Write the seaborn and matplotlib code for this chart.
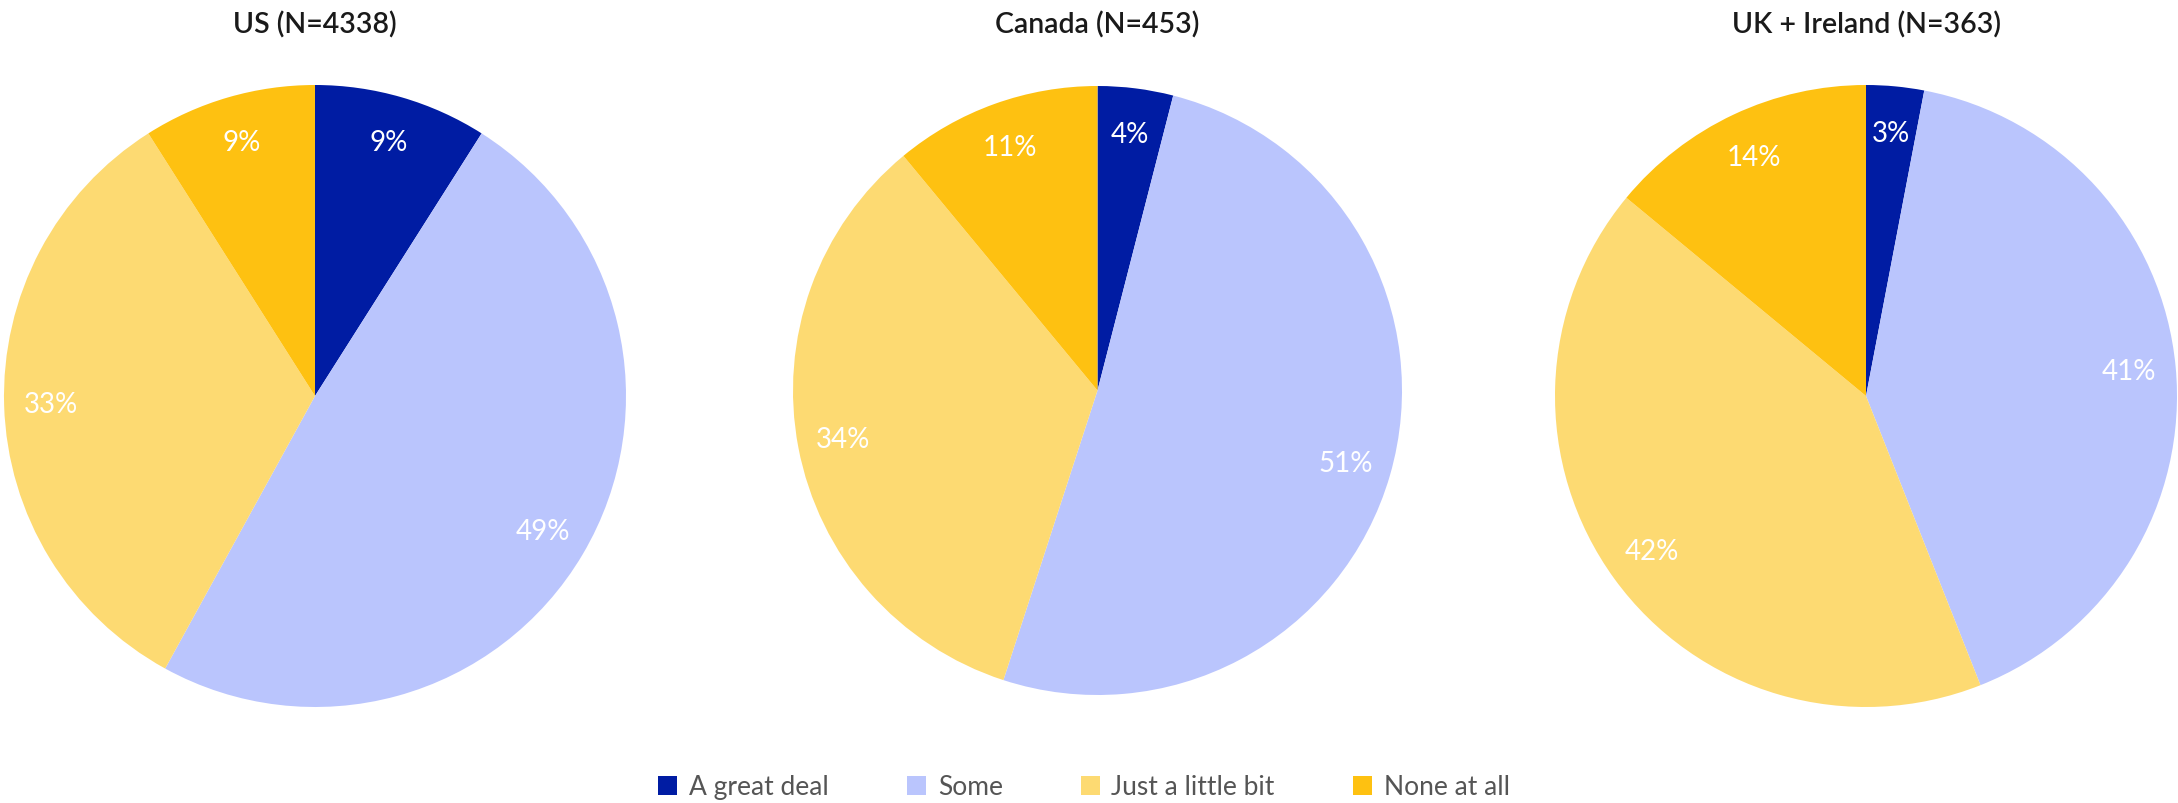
import matplotlib
matplotlib.use("Agg")
import matplotlib.pyplot as plt
import seaborn as sns
from matplotlib.patches import Patch

# Survey responses by region (percent of respondents)
categories = ["A great deal", "Some", "Just a little bit", "None at all"]
regions = ["US (N=4338)", "Canada (N=453)", "UK + Ireland (N=363)"]
us_values = [9, 49, 33, 9]
canada_values = [4, 51, 34, 11]
uk_values = [3, 41, 42, 14]
series = [us_values, canada_values, uk_values]

colors = ["#001CA3", "#BAC5FD", "#FDDA72", "#FEC111"]

sns.set_theme(style="white")
plt.rcParams["font.family"] = ["Lato", "DejaVu Sans"]
palette = sns.color_palette(colors)

W, H = 2178, 804
fig = plt.figure(figsize=(W / 100, H / 100), dpi=100)

# pie boxes in pixel units: (center_x, center_y_from_top, radius)
boxes = [(315, 397, 311), (1097.5, 391.5, 304.5), (1866, 397, 311)]

for title, vals, (cx, cy, r) in zip(regions, series, boxes):
    ax = fig.add_axes([(cx - r) / W, (H - cy - r) / H, 2 * r / W, 2 * r / H])
    wedges, _, autotexts = ax.pie(
        vals,
        colors=palette,
        startangle=90,
        counterclock=False,
        autopct=lambda p: f"{p:.0f}%",
        pctdistance=0.85,
        wedgeprops=dict(linewidth=0),
        textprops=dict(color="white", fontsize=20, fontweight="normal"),
    )
    for w in wedges:
        w.set_clip_on(False)
    ax.set_xlim(-1, 1)
    ax.set_ylim(-1, 1)
    ax.set_aspect("equal")
    ax.axis("off")
    fig.text(cx / W, 1 - 25 / H, title, ha="center", va="center",
             fontsize=20.5, color="#1a1a1a", fontweight="semibold")

handles = [Patch(facecolor=c, edgecolor="none") for c in palette]
leg = fig.legend(
    handles, categories,
    loc="center", bbox_to_anchor=(1084 / W, 1 - 788 / H),
    ncol=4, frameon=False, fontsize=19,
    handlelength=0.72, handleheight=0.72, handletextpad=0.45,
    columnspacing=2.95,
)
for t in leg.get_texts():
    t.set_color("#555555")

fig.savefig("out.png", dpi=100)
